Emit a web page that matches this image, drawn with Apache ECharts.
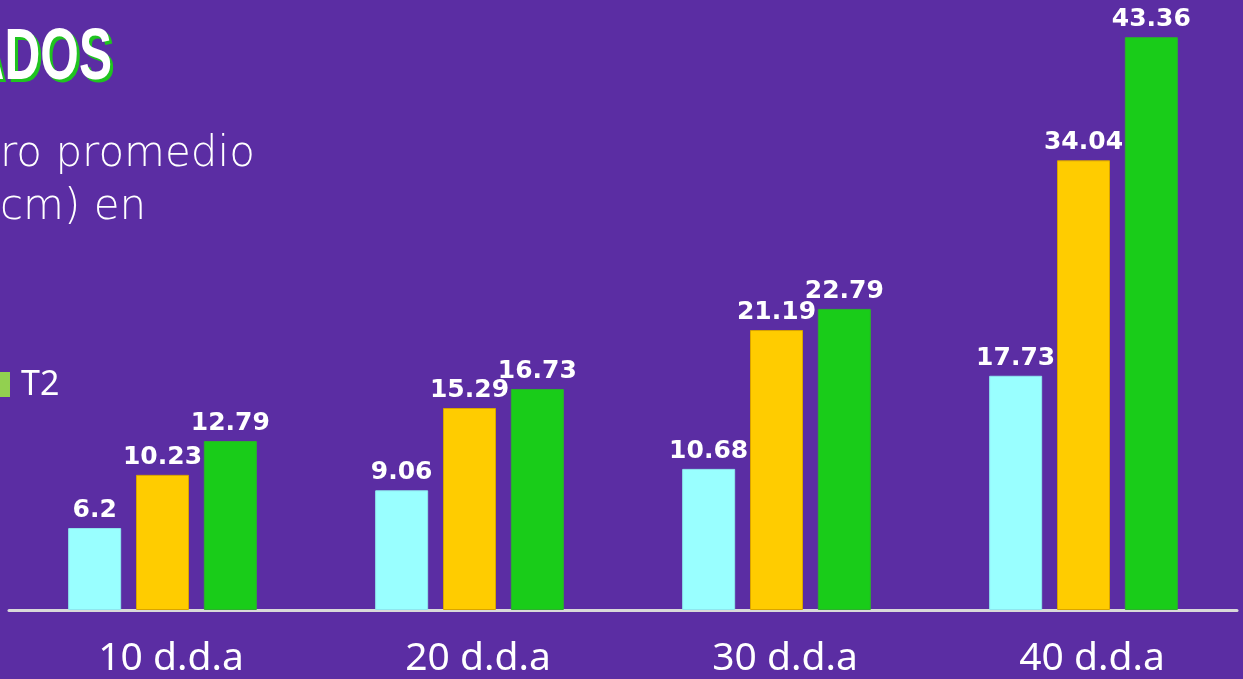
<!DOCTYPE html>
<html>
<head>
<meta charset="utf-8">
<script src="https://cdn.jsdelivr.net/npm/echarts@6/dist/echarts.min.js"></script>
<style>
  html, body { margin: 0; padding: 0; background: #5B2DA3; }
  #chart { width: 1243px; height: 679px; }
</style>
</head>
<body>
<div id="chart"></div>
<script>
// datos
const categories = ['10 d.d.a', '20 d.d.a', '30 d.d.a', '40 d.d.a'];
const seriesNames = ['T0', 'T1', 'T2'];
const t0Values = [6.2, 9.06, 10.68, 17.73];
const t1Values = [10.23, 15.29, 21.19, 34.04];
const t2Values = [12.79, 16.73, 22.79, 43.36];

const colors = ['#99FFFF', '#FFCC00', '#19CC19'];
const borders = ['#8FE6EE', '#D9A400', '#2DB02D'];
const valueSets = [t0Values, t1Values, t2Values];

const chart = echarts.init(document.getElementById('chart'));

const option = {
  backgroundColor: '#5B2DA3',
  animation: false,
  grid: { left: 9, right: 6, top: 15.5, bottom: 69 },
  xAxis: {
    type: 'category',
    data: categories,
    axisLine: { show: true, lineStyle: { color: '#D9D9D9', width: 3 } },
    axisTick: { show: false },
    axisLabel: {
      color: '#FFFFFF',
      fontFamily: 'Noto Sans',
      fontSize: 39,
      margin: 29,
      padding: [0, 0, 0, 17]
    }
  },
  yAxis: {
    type: 'value',
    min: 0,
    max: 45,
    show: false,
    splitLine: { show: false }
  },
  series: valueSets.map((vals, i) => ({
    name: seriesNames[i],
    type: 'bar',
    data: vals,
    barWidth: 53,
    barGap: '28%',
    itemStyle: { color: colors[i], borderColor: borders[i], borderWidth: 1 },
    label: {
      show: true,
      position: 'top',
      distance: 5,
      color: '#FFFFFF',
      fontFamily: 'DejaVu Sans',
      fontWeight: 'bold',
      fontSize: 25
    }
  })),
  graphic: [
    // titulo recortado (sombra verde + texto blanco)
    {
      type: 'text', x: 115, y: 25, scaleX: 0.68,
      style: { text: 'ADOS', fill: '#1FC41F', align: 'right', verticalAlign: 'top',
               font: 'bold 73px "Liberation Sans"' }
    },
    {
      type: 'text', x: 112, y: 22, scaleX: 0.68,
      style: { text: 'ADOS', fill: '#FFFFFF', align: 'right', verticalAlign: 'top',
               font: 'bold 73px "Liberation Sans"' }
    },
    // subtitulo
    {
      type: 'text', x: 0, y: 176,
      style: { text: 'ro promedio', fill: '#FFFFFF', verticalAlign: 'bottom',
               font: '200 42px "DejaVu Sans"' }
    },
    {
      type: 'text', x: 0, y: 229,
      style: { text: 'cm) en', fill: '#FFFFFF', verticalAlign: 'bottom',
               font: '200 42px "DejaVu Sans"' }
    },
    // leyenda
    {
      type: 'rect', shape: { x: -17, y: 372, width: 27, height: 25 },
      style: { fill: '#92D050' }
    },
    {
      type: 'text', x: 21, y: 402,
      style: { text: 'T2', fill: '#FFFFFF', verticalAlign: 'bottom',
               font: '34px "Noto Sans"' }
    }
  ]
};

chart.setOption(option);
</script>
</body>
</html>
